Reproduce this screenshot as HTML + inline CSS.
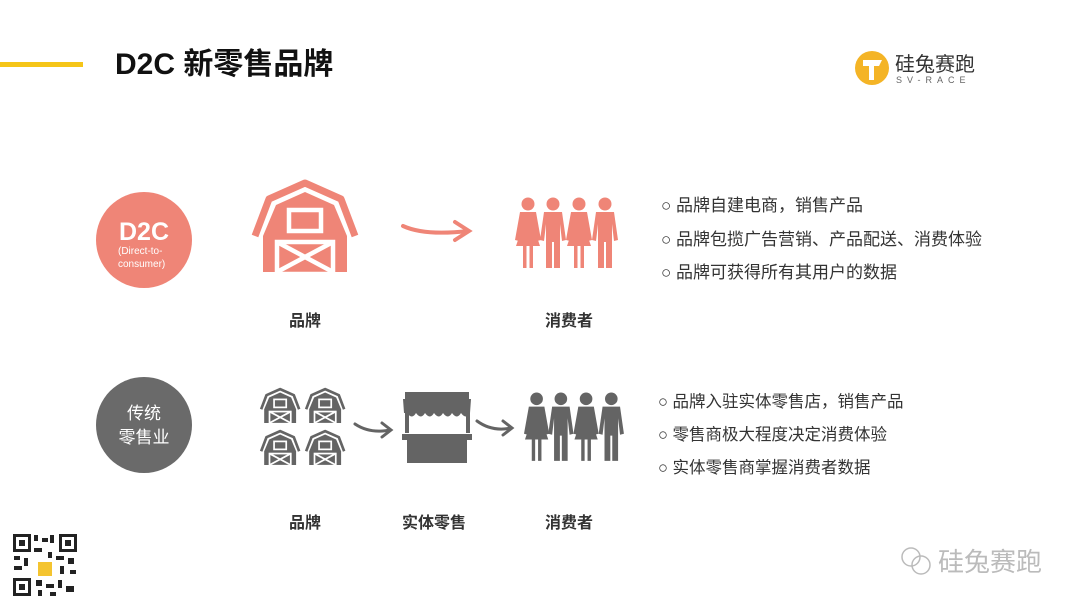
<!DOCTYPE html>
<html><head><meta charset="utf-8"><style>
html,body{margin:0;padding:0;background:#fff;}
body{width:1080px;height:608px;overflow:hidden;}
text{font-family:"Liberation Sans","Noto Sans CJK SC",sans-serif;}
</style></head><body>
<svg width="1080" height="608" viewBox="0 0 1080 608" xmlns="http://www.w3.org/2000/svg">
<defs>
<g id="barn">
<polyline points="3,56 17,19 53,3 89,19 103,56" fill="none" stroke="currentColor" stroke-width="7" stroke-linejoin="round"/>
<polygon points="11,56 24,25 53,12 82,25 95,56 95,92 11,92" fill="currentColor"/>
<rect x="37" y="30" width="32" height="21" fill="none" stroke="#fff" stroke-width="4.5"/>
<rect x="25" y="62" width="56" height="32" fill="none" stroke="#fff" stroke-width="4.5"/>
<line x1="25" y1="62" x2="81" y2="92" stroke="#fff" stroke-width="4.5"/>
<line x1="81" y1="62" x2="25" y2="92" stroke="#fff" stroke-width="4.5"/>
</g>
<g id="woman">
<circle cx="13" cy="6" r="6.5" fill="currentColor"/>
<path d="M5,14 H21 L26,42 L22,43 L19,30 L25,48 H18 V70 H14.5 V48 H11.5 V70 H8 V48 H1 L7,30 L4,43 L0,42 Z" fill="currentColor"/>
</g>
<g id="man">
<circle cx="13" cy="6" r="6.5" fill="currentColor"/>
<path d="M4,14 H22 L26,42 L22,43 L20,26 V70 H14 V44 H12 V70 H6 V26 L4,43 L0,42 Z" fill="currentColor"/>
</g>
<g id="people">
<use href="#woman" x="0"/><use href="#man" x="25"/><use href="#woman" x="51"/><use href="#man" x="77"/>
</g>
</defs>

<rect x="0" y="62" width="83" height="5" fill="#f5c518"/>
<text x="115" y="74" font-size="30" font-weight="bold" fill="#111">D2C 新零售品牌</text>

<circle cx="872" cy="68" r="17" fill="#f4b426"/>
<path d="M863,60 H882 L879,66 H874 V80 H869 V66 H863 Z" fill="#fff"/>
<text x="895" y="71" font-size="20" fill="#333">硅兔赛跑</text>
<text x="896" y="83" font-size="9" fill="#666" letter-spacing="5">SV-RACE</text>

<circle cx="144" cy="240" r="48" fill="#ef8577"/>
<text x="119" y="240" font-size="25" font-weight="bold" fill="#fff">D2C</text>
<text x="118" y="254" font-size="10" fill="#fff">(Direct-to-</text>
<text x="118" y="267" font-size="10" fill="#fff">consumer)</text>

<circle cx="144" cy="425" r="48" fill="#6a6a6a"/>
<text x="144" y="419" font-size="17" fill="#fff" text-anchor="middle">传统</text>
<text x="144" y="443" font-size="17" fill="#fff" text-anchor="middle">零售业</text>

<g style="color:#ef8577"><use href="#barn" transform="translate(252,180)"/></g>
<path d="M403,226 Q425,236 468,231" fill="none" stroke="#ef8577" stroke-width="4" stroke-linecap="round"/>
<path d="M455,222 L469,231 L455,240" fill="none" stroke="#ef8577" stroke-width="4" stroke-linecap="round"/>
<g style="color:#ef8577"><use href="#people" transform="translate(515,198)"/></g>

<g style="color:#646464">
<use href="#barn" transform="translate(260,388) scale(0.38)"/>
<use href="#barn" transform="translate(305,388) scale(0.38)"/>
<use href="#barn" transform="translate(260,430) scale(0.38)"/>
<use href="#barn" transform="translate(305,430) scale(0.38)"/>
</g>
<path d="M355,424 Q370,434 390,430" fill="none" stroke="#646464" stroke-width="3" stroke-linecap="round"/>
<path d="M382,423 L391,430 L382,437" fill="none" stroke="#646464" stroke-width="3" stroke-linecap="round"/>
<g fill="#646464">
<rect x="405" y="392" width="64" height="7"/>
<path d="M403,399 H471 L470,413 Q466,420 461,413 Q457,420 452,413 Q448,420 443,413 Q439,420 434,413 Q430,420 425,413 Q421,420 416,413 Q412,420 407,413 L404,413 Z"/>
<rect x="405" y="413" width="4" height="20"/>
<rect x="466" y="413" width="4" height="20"/>
<rect x="402" y="434" width="70" height="6"/>
<rect x="407" y="440" width="60" height="23"/>
</g>
<path d="M477,421 Q492,432 511,428" fill="none" stroke="#646464" stroke-width="3" stroke-linecap="round"/>
<path d="M503,421 L512,428 L503,435" fill="none" stroke="#646464" stroke-width="3" stroke-linecap="round"/>
<g style="color:#646464"><use href="#people" transform="translate(524,393) scale(0.97)"/></g>

<g font-size="16" font-weight="bold" fill="#333" text-anchor="middle">
<text x="305" y="326">品牌</text>
<text x="569" y="326">消费者</text>
<text x="305" y="528">品牌</text>
<text x="434" y="528">实体零售</text>
<text x="569" y="528">消费者</text>
</g>

<g font-size="17" fill="#333">
<text x="661" y="211">○ 品牌自建电商，销售产品</text>
<text x="661" y="245">○ 品牌包揽广告营销、产品配送、消费体验</text>
<text x="661" y="278">○ 品牌可获得所有其用户的数据</text>
</g>
<g font-size="16.5" fill="#333">
<text x="658" y="407">○ 品牌入驻实体零售店，销售产品</text>
<text x="658" y="440">○ 零售商极大程度决定消费体验</text>
<text x="658" y="473">○ 实体零售商掌握消费者数据</text>
</g>

<g fill="#222">
<rect x="12" y="533" width="66" height="64" fill="#fff"/>
<rect x="13" y="534" width="18" height="18"/><rect x="16" y="537" width="12" height="12" fill="#fff"/><rect x="19" y="540" width="6" height="6"/>
<rect x="59" y="534" width="18" height="18"/><rect x="62" y="537" width="12" height="12" fill="#fff"/><rect x="65" y="540" width="6" height="6"/>
<rect x="13" y="578" width="18" height="18"/><rect x="16" y="581" width="12" height="12" fill="#fff"/><rect x="19" y="584" width="6" height="6"/>
<rect x="34" y="535" width="4" height="6"/><rect x="42" y="538" width="6" height="4"/><rect x="50" y="535" width="4" height="8"/>
<rect x="14" y="556" width="6" height="4"/><rect x="24" y="558" width="4" height="8"/><rect x="34" y="548" width="8" height="4"/>
<rect x="48" y="552" width="4" height="6"/><rect x="56" y="556" width="8" height="4"/><rect x="68" y="558" width="6" height="6"/>
<rect x="14" y="566" width="8" height="4"/><rect x="60" y="566" width="4" height="8"/><rect x="70" y="570" width="6" height="4"/>
<rect x="36" y="580" width="6" height="6"/><rect x="46" y="584" width="8" height="4"/><rect x="58" y="580" width="4" height="8"/>
<rect x="66" y="586" width="8" height="6"/><rect x="38" y="590" width="4" height="6"/><rect x="50" y="592" width="6" height="4"/>
<rect x="38" y="562" width="14" height="14" fill="#f4c430"/>
</g>

<circle cx="911" cy="557" r="9" fill="none" stroke="#bbb" stroke-width="1.5"/>
<circle cx="921" cy="565" r="9" fill="none" stroke="#bbb" stroke-width="1.5"/>
<text x="938" y="571" font-size="26" fill="#bbb">硅兔赛跑</text>
</svg>
</body></html>
